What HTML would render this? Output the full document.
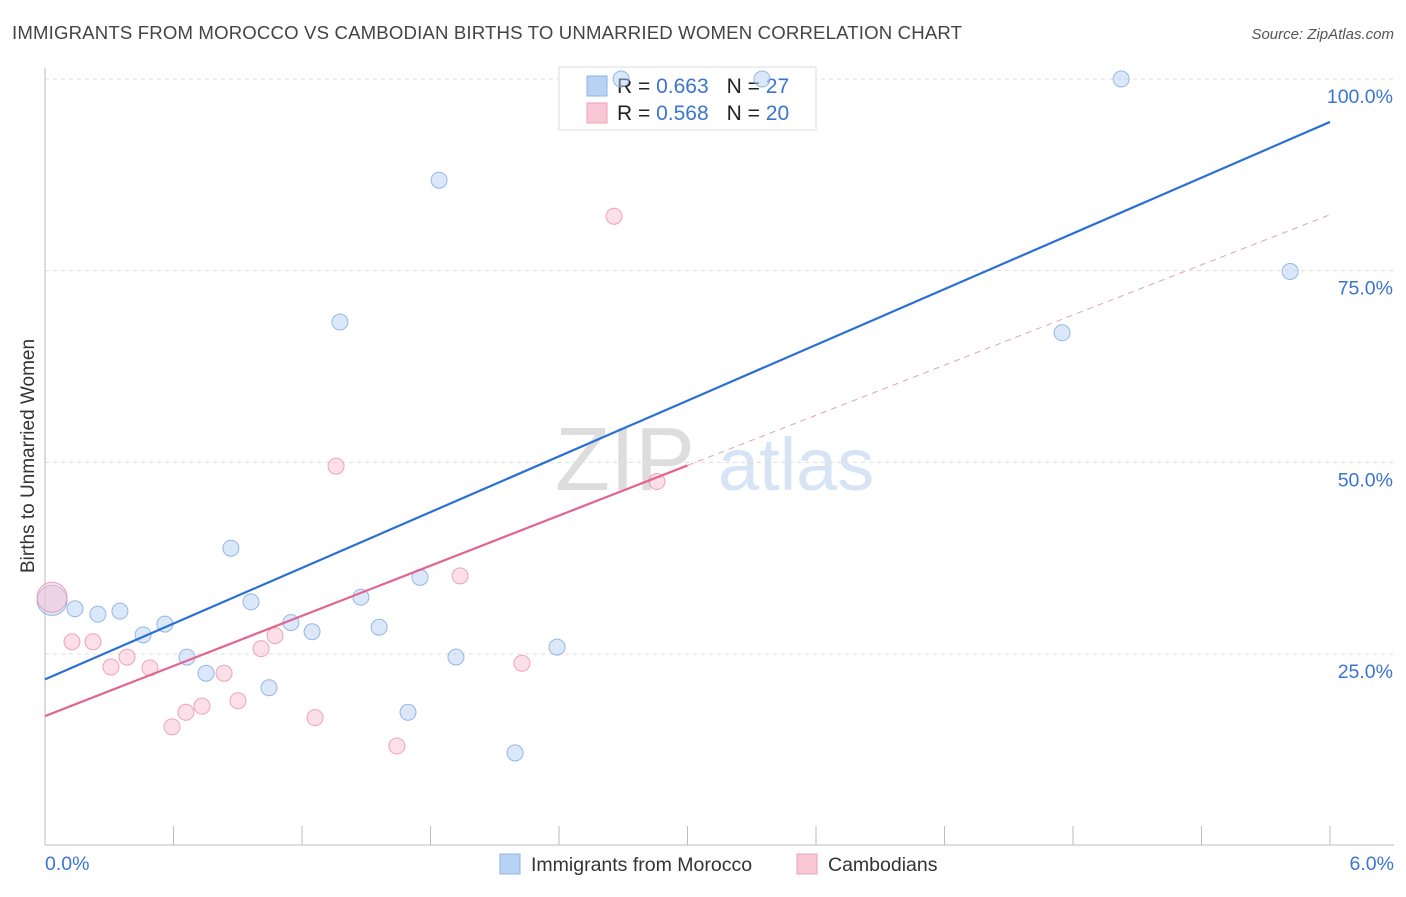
<!DOCTYPE html>
<html><head><meta charset="utf-8"><style>
body{margin:0;background:#fff;font-family:"Liberation Sans",sans-serif;}
svg text{font-family:"Liberation Sans",sans-serif;}
</style></head><body>
<svg id="chart" width="1406" height="892">
<text x="12" y="39" font-size="18.6" fill="#444" textLength="950">IMMIGRANTS FROM MOROCCO VS CAMBODIAN BIRTHS TO UNMARRIED WOMEN CORRELATION CHART</text>
<text x="1394" y="39" font-size="15" fill="#555" font-style="italic" text-anchor="end">Source: ZipAtlas.com</text>
<text x="0" y="0" transform="translate(34,456) rotate(-90)" font-size="19" fill="#333" text-anchor="middle">Births to Unmarried Women</text>
<g><text x="555" y="490" font-size="90" fill="#ddd" font-family="Liberation Serif,serif">ZIP</text><text x="718" y="490" font-size="74" fill="#d6e4f5">atlas</text></g>
<g id="grid"></g><g id="axes"></g>
<g>
<rect x="559" y="67" width="257" height="63" fill="#fff" stroke="#ddd"/>
<rect x="587" y="76" width="20" height="20" fill="#b8d2f4" stroke="#8fb3e6"/>
<rect x="587" y="103" width="20" height="20" fill="#f9c6d5" stroke="#eba3ba"/>
<text x="617" y="93" font-size="21" fill="#222">R = <tspan fill="#3a75d0">0.663</tspan><tspan dx="18">N = </tspan><tspan fill="#3a75d0">27</tspan></text>
<text x="617" y="120" font-size="21" fill="#222">R = <tspan fill="#3a75d0">0.568</tspan><tspan dx="18">N = </tspan><tspan fill="#3a75d0">20</tspan></text>
</g>
<g id="marks"></g>
<g>
<rect x="500" y="854" width="20" height="20" fill="#b8d2f4" stroke="#8fb3e6"/>
<text x="531" y="871" font-size="19.5" fill="#333">Immigrants from Morocco</text>
<rect x="797" y="854" width="20" height="20" fill="#f9c6d5" stroke="#eba3ba"/>
<text x="828" y="871" font-size="19.5" fill="#333">Cambodians</text>
</g>
</svg>
<script>
const xTicks=[0,0.6,1.2,1.8,2.4,3.0,3.6,4.2,4.8,5.4,6.0];
const yTicks=[25,50,75,100];
const blueX=[0.033,0.140,0.247,0.350,0.458,0.560,0.663,0.752,0.868,0.962,1.046,1.148,1.247,1.377,1.475,1.560,1.695,1.751,1.840,1.919,2.195,2.391,2.690,3.348,4.749,5.025,5.814];
const blueY=[32.0,30.9,30.2,30.6,27.5,28.9,24.6,22.5,38.8,31.8,20.6,29.1,27.9,68.3,32.4,28.5,17.4,35.0,86.8,24.6,12.1,25.9,100,100,66.9,100,74.9];
const pinkX=[0.033,0.126,0.224,0.308,0.383,0.490,0.593,0.658,0.733,0.836,0.901,1.009,1.074,1.261,1.359,1.643,1.938,2.227,2.657,2.857];
const pinkY=[32.4,26.6,26.6,23.3,24.6,23.2,15.5,17.4,18.2,22.5,18.9,25.7,27.4,16.7,49.5,13.0,35.2,23.8,82.1,47.5];
const blueTrend=[21.7,94.4];
const pinkTrend=[16.9,82.3];
const pinkSolidEnd=3.0;
const X=v=>45+v/6*1285, Y=v=>845.7-v/100*766.7;
const NS="http://www.w3.org/2000/svg";
function mk(p,tag,a){const e=document.createElementNS(NS,tag);for(const k in a)e.setAttribute(k,a[k]);document.getElementById(p).appendChild(e);return e;}
yTicks.forEach(t=>{
 const g=mk('grid','line',{x1:45,x2:1394,y1:Y(t),y2:Y(t),stroke:'#ddd','stroke-dasharray':'4,4'});
 
 
 const l=mk('axes','text',{x:1393,y:Y(t)+24,'font-size':19.5,fill:'#3a75d0','text-anchor':'end'});l.textContent=t.toFixed(1)+'%';
 
 
});
const ax=mk('axes','line',{x1:45,x2:1394,y1:845,y2:845,stroke:'#bbb'});


const ay=mk('axes','line',{x1:45,x2:45,y1:68,y2:845,stroke:'#bbb'});


xTicks.forEach(t=>{const e=mk('axes','line',{x1:X(t),x2:X(t),y1:826,y2:845,stroke:'#bbb'});
 
 });
[[0,45,'start'],[6,1394,'end']].forEach(([v,x,a])=>{const l=mk('axes','text',{x:x,y:870,'font-size':19.5,fill:'#3a75d0','text-anchor':a});l.textContent=v.toFixed(1)+'%';
 
 });
function dots(xs,ys,fill,stroke,name){xs.forEach((x,i)=>{const c=mk('marks','circle',{cx:X(x),cy:Y(ys[i]),r:i==0?15:8,fill:fill,'fill-opacity':0.5,stroke:stroke,'stroke-opacity':0.8,'stroke-width':1});
 
 });}
dots(blueX,blueY,'#b8d2f4','#7fa8e0','morocco-point');
dots(pinkX,pinkY,'#f9c0d1','#e891ad','cambodian-point');
const bl=mk('marks','line',{x1:X(0),y1:Y(blueTrend[0]),x2:X(6),y2:Y(blueTrend[1]),stroke:'#2a6fd6','stroke-width':2.2});


const pm=v=>pinkTrend[0]+(pinkTrend[1]-pinkTrend[0])*v/6;
const pl=mk('marks','line',{x1:X(0),y1:Y(pm(0)),x2:X(pinkSolidEnd),y2:Y(pm(pinkSolidEnd)),stroke:'#e2648e','stroke-width':2.2});


const pd=mk('marks','line',{x1:X(pinkSolidEnd),y1:Y(pm(pinkSolidEnd)),x2:X(6),y2:Y(pm(6)),stroke:'#e8a0b8','stroke-width':1,'stroke-dasharray':'6,5'});


</script>
</body></html>
